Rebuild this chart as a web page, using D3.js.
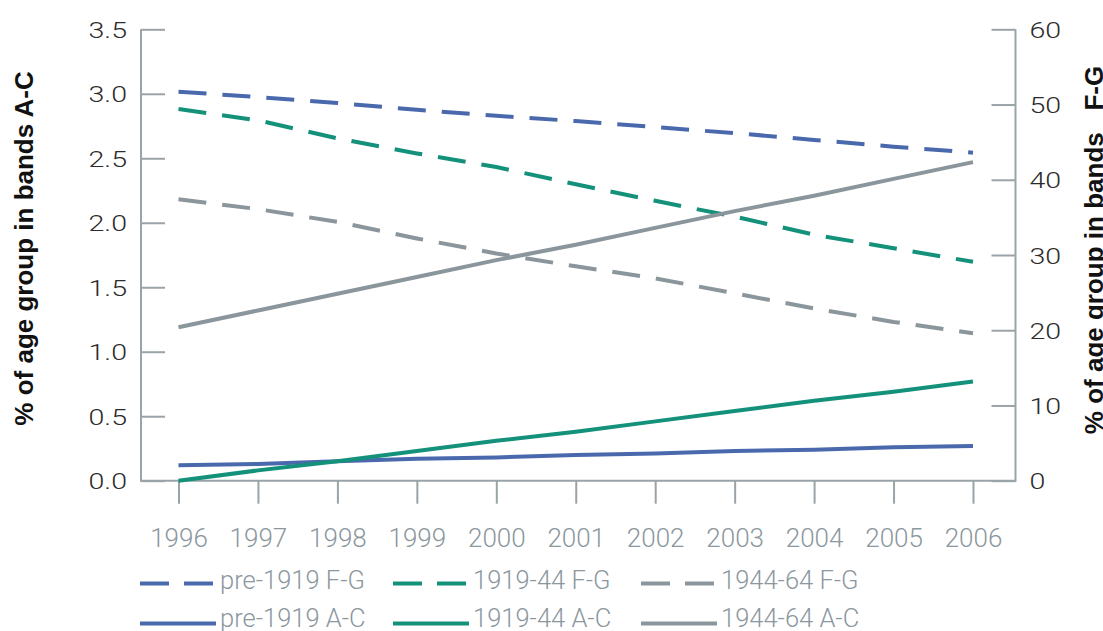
<!DOCTYPE html>
<html>
<head>
<meta charset="utf-8">
<script src="https://cdn.jsdelivr.net/npm/d3@7"></script>
<style>
  html, body { margin: 0; padding: 0; background: #fff; overflow: hidden; }
  svg { display: block; }
</style>
</head>
<body>
<svg id="chart" width="1103" height="631"></svg>
<script>
// ---- data ----
const years = [1996, 1997, 1998, 1999, 2000, 2001, 2002, 2003, 2004, 2005, 2006];
const pre1919FG = [51.7, 51.0, 50.2, 49.3, 48.5, 47.8, 47.0, 46.2, 45.3, 44.4, 43.6];
const c1919_44FG = [49.4, 47.9, 45.5, 43.5, 41.7, 39.4, 37.2, 35.1, 32.7, 30.9, 29.1];
const c1944_64FG = [37.4, 36.1, 34.4, 32.2, 30.2, 28.5, 26.9, 24.9, 22.9, 21.1, 19.6];
const pre1919AC = [0.12, 0.13, 0.15, 0.17, 0.18, 0.20, 0.21, 0.23, 0.24, 0.26, 0.27];
const c1919_44AC = [0.00, 0.08, 0.15, 0.23, 0.31, 0.38, 0.46, 0.54, 0.62, 0.69, 0.77];
const c1944_64AC = [1.19, 1.32, 1.45, 1.58, 1.71, 1.83, 1.96, 2.09, 2.21, 2.34, 2.47];
const leftTicks = [0, 0.5, 1.0, 1.5, 2.0, 2.5, 3.0, 3.5];
const rightTicks = [0, 10, 20, 30, 40, 50, 60];
const leftTitle = "% of age group in bands A-C";
const rightTitle = "% of age group in bands\u00a0\u00a0 F-G";

const BLUE = "#4a69ad", GREEN = "#13917a", GREY = "#8a959c";
const AXIS = "#9aa3a8";

const series = [
  { name: "pre-1919 F-G", values: pre1919FG, axis: "R", color: BLUE, dashed: true },
  { name: "1919-44 F-G", values: c1919_44FG, axis: "R", color: GREEN, dashed: true },
  { name: "1944-64 F-G", values: c1944_64FG, axis: "R", color: GREY, dashed: true },
  { name: "pre-1919 A-C", values: pre1919AC, axis: "L", color: BLUE, dashed: false },
  { name: "1919-44 A-C", values: c1919_44AC, axis: "L", color: GREEN, dashed: false },
  { name: "1944-64 A-C", values: c1944_64AC, axis: "L", color: GREY, dashed: false }
];

// ---- layout ----
const plotL = 141, plotR = 1015.5, plotT = 29.3, plotB = 480.7;
const svg = d3.select("#chart");
const FONT = "Roboto, 'Liberation Sans', Arial, sans-serif";
const BOLD = "'Liberation Sans', Arial, sans-serif";

const x = d3.scaleLinear().domain([1996, 2006]).range([178.5, 973]);
const yL = d3.scaleLinear().domain([0, 3.5]).range([plotB, plotT]);
const yR = d3.scaleLinear().domain([0, 60]).range([plotB, plotT]);

// left axis
const gL = svg.append("g").attr("transform", `translate(${plotL},0)`)
  .call(d3.axisLeft(yL).tickValues(leftTicks).tickFormat(d3.format(".1f"))
    .tickSizeInner(-24).tickSizeOuter(0).tickPadding(14));
// right axis
const gR = svg.append("g").attr("transform", `translate(${plotR},0)`)
  .call(d3.axisRight(yR).tickValues(rightTicks).tickFormat(d3.format("d"))
    .tickSizeInner(-24).tickSizeOuter(0).tickPadding(14));
[[gL, -14], [gR, 14]].forEach(([g, off]) => {
  g.select(".domain").remove();
  g.selectAll(".tick line").attr("stroke", AXIS).attr("stroke-width", 2);
  g.selectAll(".tick text").attr("font-family", FONT).attr("font-weight", 300)
    .attr("font-size", 22.5).attr("fill", "#2b2b2b").attr("dy", "0.36em")
    .attr("x", 0).attr("transform", `translate(${off},0) scale(1.27,1)`);
});
// bottom axis
const gB = svg.append("g").attr("transform", `translate(0,${plotB})`)
  .call(d3.axisBottom(x).tickValues(years).tickFormat(d3.format("d"))
    .tickSizeInner(23).tickSizeOuter(0));
gB.select(".domain").remove();
gB.selectAll(".tick line").attr("stroke", AXIS).attr("stroke-width", 2);
gB.selectAll(".tick text").attr("font-family", FONT).attr("font-weight", 300)
  .attr("font-size", 26).attr("fill", "#8c979e").attr("y", 66).attr("dy", null);

// frame lines
svg.append("line").attr("x1", plotL).attr("x2", plotL).attr("y1", plotT).attr("y2", plotB + 1)
  .attr("stroke", AXIS).attr("stroke-width", 2);
svg.append("line").attr("x1", plotR).attr("x2", plotR).attr("y1", plotT).attr("y2", plotB + 1)
  .attr("stroke", AXIS).attr("stroke-width", 2);
svg.append("line").attr("x1", plotL).attr("x2", plotR).attr("y1", plotB).attr("y2", plotB)
  .attr("stroke", AXIS).attr("stroke-width", 2);

// axis titles
svg.append("text").attr("transform", `translate(33,248.5) rotate(-90)`)
  .attr("text-anchor", "middle").attr("font-family", BOLD).attr("font-weight", 700)
  .attr("font-size", 26).attr("fill", "#111").text(leftTitle);
svg.append("text").attr("transform", `translate(1102.5,250) rotate(-90)`)
  .attr("text-anchor", "middle").attr("font-family", BOLD).attr("font-weight", 700)
  .attr("font-size", 26).attr("fill", "#111").style("white-space", "pre").text(rightTitle);

// lines
series.forEach(s => {
  const ys = s.axis === "L" ? yL : yR;
  const line = d3.line().x((d, j) => x(years[j])).y(d => ys(d));
  svg.append("path").datum(s.values).attr("d", line)
    .attr("fill", "none").attr("stroke", s.color).attr("stroke-width", 4)
    .attr("stroke-dasharray", s.dashed ? "28,16" : null);
});

// legend
const legX = [140, 393, 641];
const legLineY = [583.5, 623.5];
const legTextY = [589, 626.5];
series.forEach((s, i) => {
  const col = i % 3, row = Math.floor(i / 3);
  const g = svg.append("g").attr("transform", `translate(${legX[col]},0)`);
  g.append("line").attr("x1", 0).attr("x2", s.dashed ? 73 : 76)
    .attr("y1", legLineY[row]).attr("y2", legLineY[row])
    .attr("stroke", s.color).attr("stroke-width", 4)
    .attr("stroke-dasharray", s.dashed ? "29,15" : null);
  g.append("text").attr("x", 80).attr("y", legTextY[row])
    .attr("font-family", FONT).attr("font-weight", 300).attr("font-size", 25.5)
    .attr("fill", "#8c979e").text(s.name);
});
</script>
</body>
</html>
